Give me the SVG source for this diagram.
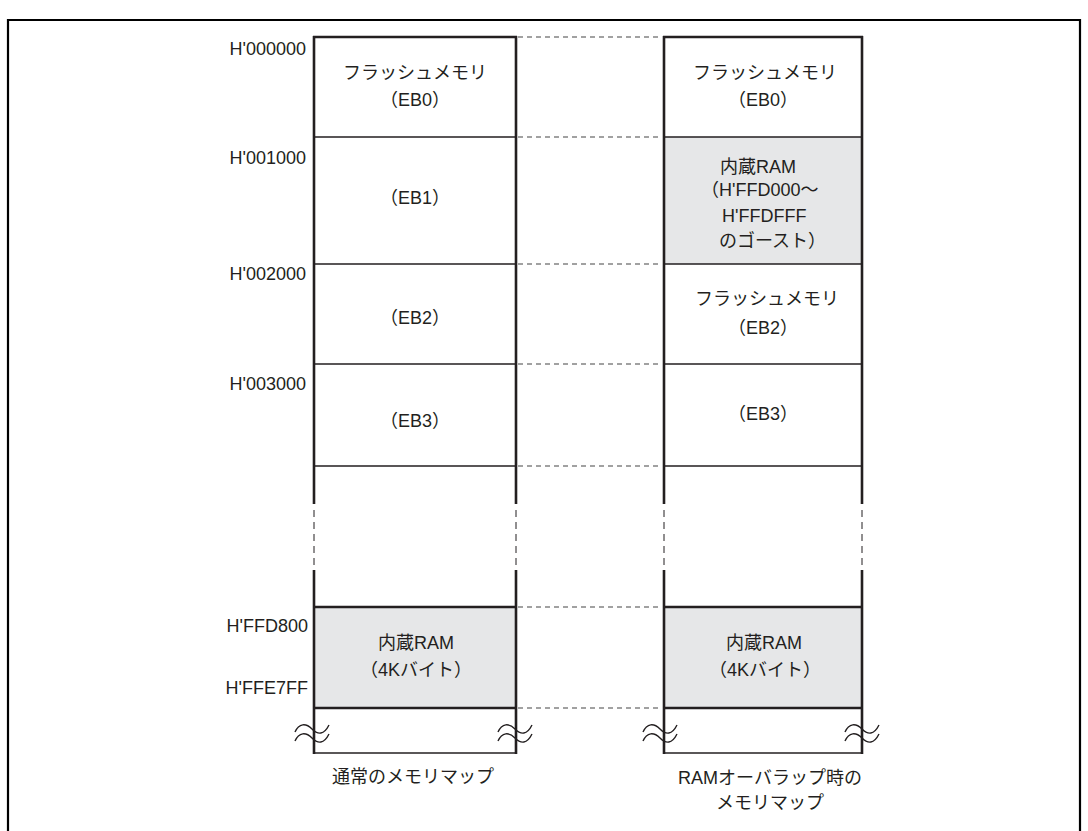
<svg xmlns="http://www.w3.org/2000/svg" width="1088" height="831" viewBox="0 0 1088 831">
<defs>
<style>
text{font-family:"Liberation Sans","Noto Sans CJK JP",sans-serif;font-size:18px;fill:#231f20}
.c{text-anchor:middle}
.e{text-anchor:end}
.v{stroke:#231f20;stroke-width:2.6;fill:none}
.vd{stroke:#231f20;stroke-width:1;stroke-dasharray:7 5;fill:none}
.h{stroke:#231f20;stroke-width:1.6;fill:none}
.hb{stroke:#231f20;stroke-width:2.4;fill:none}
.gray{fill:#e6e7e8}
.conn{stroke:#444;stroke-width:1.1;stroke-dasharray:5 4;fill:none}
.tl{stroke:#231f20;stroke-width:1.4;fill:none}
</style>
<g id="tilde">
<path class="tl" d="M-17,-1 C-13,-10 -6,-10 0,-4 C6,2 12,2 17,-8"/>
<path class="tl" d="M-17,8 C-13,-1 -6,-1 0,5 C6,11 12,11 17,1"/>
</g>
</defs>
<rect x="0" y="0" width="1088" height="831" fill="#fff"/>
<g id="frame">
<path d="M8,840 V20 H1080 V840" stroke="#000" stroke-width="2.2" fill="none"/>
</g>
<g id="addresses">
<text class="e" x="306" y="55">H'000000</text>
<text class="e" x="306" y="164">H'001000</text>
<text class="e" x="306" y="280">H'002000</text>
<text class="e" x="306" y="390">H'003000</text>
<text class="e" x="308" y="632">H'FFD800</text>
<text class="e" x="308" y="694">H'FFE7FF</text>
</g>
<g id="left-map">
<rect class="gray" x="314" y="607" width="202" height="101"/>
<path class="v" d="M314,36 V504 M314,570 V754 M516,36 V504 M516,570 V754"/>
<path class="vd" d="M314,510 V566 M516,510 V566"/>
<path class="hb" d="M313,37 H517"/>
<path class="h" d="M314,137 H516 M314,264 H516 M314,364 H516 M314,466 H516"/>
<path class="hb" d="M314,607 H516 M314,708 H516"/>
<path class="h" d="M314,753 H516"/>
<use href="#tilde" x="312" y="733"/>
<use href="#tilde" x="515" y="733"/>
<g id="left-eb0"><text class="c" x="415" y="79">フラッシュメモリ</text><text class="c" x="415" y="106">（EB0）</text></g>
<g id="left-eb1"><text class="c" x="415" y="204">（EB1）</text></g>
<g id="left-eb2"><text class="c" x="415" y="324">（EB2）</text></g>
<g id="left-eb3"><text class="c" x="415" y="427">（EB3）</text></g>
<g id="left-ram"><text class="c" x="416" y="649">内蔵RAM</text><text class="c" x="416" y="676">（4Kバイト）</text></g>
<text class="c" x="413" y="783">通常のメモリマップ</text>
</g>
<g id="right-map">
<rect class="gray" x="664" y="137" width="198" height="127"/>
<rect class="gray" x="664" y="607" width="198" height="101"/>
<path class="v" d="M664,36 V504 M664,570 V754 M862,36 V504 M862,570 V754"/>
<path class="vd" d="M664,510 V566 M862,510 V566"/>
<path class="hb" d="M663,37 H863"/>
<path class="h" d="M664,137 H862 M664,264 H862 M664,364 H862 M664,466 H862"/>
<path class="hb" d="M664,607 H862 M664,708 H862"/>
<path class="h" d="M664,753 H862"/>
<use href="#tilde" x="660" y="733"/>
<use href="#tilde" x="862" y="733"/>
<g id="right-eb0"><text class="c" x="765" y="79">フラッシュメモリ</text><text class="c" x="763" y="106">（EB0）</text></g>
<g id="right-ghost">
<text x="720" y="173">内蔵RAM</text>
<text x="701" y="196">（H'FFD000～</text>
<text x="722" y="222">H'FFDFFF</text>
<text x="719" y="247">のゴースト）</text>
</g>
<g id="right-eb2"><text class="c" x="767" y="305">フラッシュメモリ</text><text class="c" x="763" y="334">（EB2）</text></g>
<g id="right-eb3"><text class="c" x="763" y="420">（EB3）</text></g>
<g id="right-ram"><text class="c" x="764" y="649">内蔵RAM</text><text class="c" x="765" y="676">（4Kバイト）</text></g>
<text class="c" x="770" y="784">RAMオーバラップ時の</text>
<text class="c" x="770" y="809">メモリマップ</text>
</g>
<g id="connectors">
<path class="conn" d="M518,37 H662 M518,137 H662 M518,264 H662 M518,364 H662 M518,466 H662 M518,607 H662 M518,708 H662"/>
</g>
</svg>
